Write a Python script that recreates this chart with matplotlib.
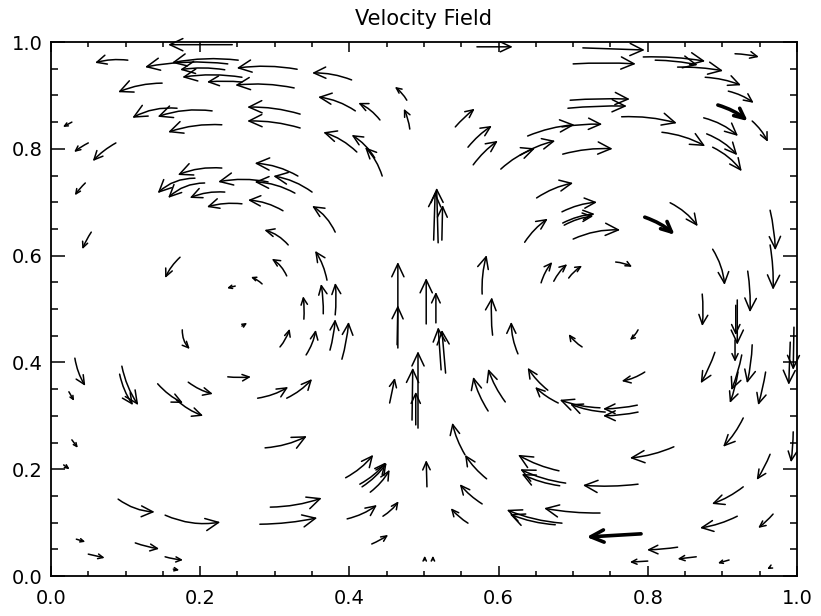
import matplotlib
matplotlib.use("Agg")
import numpy as np
import matplotlib.pyplot as plt
from matplotlib.patches import FancyArrowPatch
from matplotlib.ticker import MultipleLocator, FormatStrFormatter

# Streamline arrows of the two-cell flow: (x_tail, y_tail, x_head, y_head, bend)
# bend > 0 turns counter-clockwise (left cell), bend < 0 clockwise (right cell)
top_left = [
    (0.243, 0.995, 0.157, 0.995, 0.0),
    (0.237, 0.959, 0.126, 0.953, 0.08),
    (0.251, 0.966, 0.162, 0.961, 0.08),
    (0.330, 0.949, 0.249, 0.951, 0.08),
    (0.256, 0.934, 0.176, 0.934, 0.08),
    (0.233, 0.948, 0.173, 0.948, 0.08),
    (0.256, 0.925, 0.209, 0.925, 0.05),
    (0.326, 0.914, 0.247, 0.919, 0.08),
    (0.103, 0.966, 0.059, 0.961, 0.1),
    (0.403, 0.929, 0.350, 0.942, 0.1),
    (0.149, 0.923, 0.090, 0.906, 0.1),
    (0.169, 0.876, 0.109, 0.858, 0.15),
    (0.216, 0.871, 0.143, 0.860, 0.12),
    (0.229, 0.845, 0.157, 0.831, 0.1),
    (0.334, 0.865, 0.263, 0.878, 0.08),
    (0.334, 0.839, 0.263, 0.852, 0.08),
    (0.408, 0.871, 0.358, 0.897, 0.12),
    (0.441, 0.854, 0.412, 0.886, 0.12),
    (0.477, 0.891, 0.461, 0.916, 0.1),
    (0.481, 0.837, 0.473, 0.875, 0.08),
    (0.410, 0.794, 0.365, 0.831, 0.12),
    (0.434, 0.783, 0.403, 0.826, 0.12),
    (0.444, 0.749, 0.421, 0.803, 0.12),
    (0.331, 0.749, 0.273, 0.773, 0.12),
    (0.350, 0.719, 0.298, 0.749, 0.12),
    (0.327, 0.717, 0.273, 0.738, 0.12),
    (0.311, 0.684, 0.264, 0.704, 0.12),
    (0.381, 0.644, 0.350, 0.693, 0.15),
    (0.291, 0.738, 0.224, 0.738, 0.1),
    (0.229, 0.764, 0.170, 0.751, 0.12),
    (0.193, 0.745, 0.143, 0.717, 0.2),
    (0.233, 0.719, 0.186, 0.708, 0.12),
    (0.206, 0.736, 0.157, 0.708, 0.2),
    (0.256, 0.697, 0.209, 0.691, 0.1),
    (0.028, 0.850, 0.016, 0.841, 0.0),
    (0.050, 0.811, 0.031, 0.794, 0.05),
    (0.087, 0.811, 0.056, 0.777, 0.08),
    (0.046, 0.736, 0.032, 0.713, 0.05),
]

left_core = [
    (0.054, 0.644, 0.042, 0.612, 0.05),
    (0.173, 0.597, 0.153, 0.558, 0.1),
    (0.176, 0.461, 0.186, 0.425, 0.2),
    (0.032, 0.408, 0.046, 0.356, 0.1),
    (0.024, 0.345, 0.031, 0.328, 0.0),
    (0.095, 0.393, 0.117, 0.320, 0.1),
    (0.092, 0.378, 0.110, 0.320, 0.1),
    (0.143, 0.360, 0.177, 0.324, 0.1),
    (0.168, 0.330, 0.204, 0.300, 0.1),
    (0.184, 0.363, 0.217, 0.341, 0.1),
    (0.318, 0.620, 0.286, 0.648, 0.15),
    (0.316, 0.562, 0.296, 0.594, 0.15),
    (0.283, 0.547, 0.268, 0.560, 0.1),
    (0.247, 0.543, 0.236, 0.539, 0.0),
    (0.256, 0.468, 0.263, 0.474, 0.0),
    (0.370, 0.554, 0.354, 0.609, 0.1),
    (0.339, 0.481, 0.338, 0.524, 0.05),
    (0.365, 0.491, 0.362, 0.547, 0.05),
    (0.381, 0.489, 0.381, 0.549, 0.05),
    (0.374, 0.423, 0.381, 0.481, 0.05),
    (0.390, 0.406, 0.399, 0.476, 0.05),
    (0.307, 0.429, 0.320, 0.463, 0.1),
    (0.342, 0.414, 0.355, 0.461, 0.1),
    (0.237, 0.373, 0.268, 0.373, 0.05),
    (0.277, 0.333, 0.318, 0.354, 0.1),
    (0.316, 0.333, 0.350, 0.369, 0.1),
]

bottom_left = [
    (0.028, 0.255, 0.036, 0.240, 0.0),
    (0.017, 0.208, 0.025, 0.200, 0.0),
    (0.090, 0.144, 0.139, 0.120, 0.15),
    (0.153, 0.114, 0.227, 0.101, 0.15),
    (0.034, 0.069, 0.046, 0.064, 0.0),
    (0.050, 0.041, 0.072, 0.034, 0.0),
    (0.113, 0.062, 0.145, 0.051, 0.05),
    (0.153, 0.036, 0.177, 0.030, 0.05),
    (0.164, 0.013, 0.172, 0.011, 0.0),
    (0.287, 0.240, 0.343, 0.262, 0.1),
    (0.294, 0.129, 0.363, 0.146, 0.08),
    (0.280, 0.097, 0.357, 0.109, 0.05),
    (0.395, 0.184, 0.432, 0.227, 0.1),
    (0.417, 0.167, 0.450, 0.212, 0.1),
    (0.428, 0.157, 0.454, 0.199, 0.1),
    (0.414, 0.172, 0.449, 0.213, 0.1),
    (0.397, 0.107, 0.437, 0.133, 0.1),
    (0.445, 0.112, 0.466, 0.140, 0.1),
    (0.430, 0.060, 0.452, 0.077, 0.05),
]

centre = [
    (0.465, 0.427, 0.465, 0.588, 0.0),
    (0.464, 0.433, 0.465, 0.507, 0.0),
    (0.454, 0.324, 0.461, 0.371, 0.0),
    (0.484, 0.292, 0.485, 0.390, 0.0),
    (0.492, 0.277, 0.492, 0.421, 0.0),
    (0.489, 0.283, 0.489, 0.345, 0.0),
    (0.519, 0.624, 0.517, 0.727, 0.0),
    (0.524, 0.629, 0.525, 0.695, 0.0),
    (0.513, 0.629, 0.515, 0.719, 0.0),
    (0.503, 0.472, 0.503, 0.558, 0.0),
    (0.516, 0.474, 0.516, 0.532, 0.0),
    (0.523, 0.386, 0.519, 0.466, 0.0),
    (0.529, 0.380, 0.524, 0.461, 0.0),
    (0.504, 0.167, 0.503, 0.217, 0.0),
    (0.501, 0.030, 0.501, 0.038, 0.0),
    (0.512, 0.030, 0.512, 0.038, 0.0),
]

top_right = [
    (0.542, 0.841, 0.568, 0.875, -0.05),
    (0.559, 0.803, 0.591, 0.843, -0.08),
    (0.566, 0.770, 0.599, 0.815, -0.08),
    (0.603, 0.762, 0.649, 0.801, -0.1),
    (0.629, 0.788, 0.676, 0.815, -0.08),
    (0.639, 0.824, 0.702, 0.845, -0.08),
    (0.685, 0.841, 0.739, 0.846, -0.05),
    (0.686, 0.790, 0.753, 0.800, -0.08),
    (0.651, 0.708, 0.700, 0.736, -0.1),
    (0.685, 0.682, 0.732, 0.700, -0.1),
    (0.686, 0.661, 0.729, 0.678, -0.1),
    (0.571, 0.991, 0.619, 0.991, 0.0),
    (0.713, 0.989, 0.796, 0.985, 0.0),
    (0.700, 0.959, 0.784, 0.959, -0.03),
    (0.696, 0.891, 0.776, 0.893, -0.03),
    (0.693, 0.876, 0.772, 0.880, -0.03),
    (0.794, 0.972, 0.877, 0.964, -0.05),
    (0.810, 0.966, 0.867, 0.957, -0.05),
    (0.840, 0.953, 0.901, 0.946, -0.05),
    (0.917, 0.978, 0.949, 0.972, -0.05),
    (0.877, 0.934, 0.925, 0.919, -0.08),
    (0.908, 0.908, 0.942, 0.886, -0.1),
    (0.940, 0.852, 0.961, 0.813, -0.1),
    (0.875, 0.858, 0.921, 0.824, -0.12),
    (0.879, 0.828, 0.920, 0.788, -0.12),
    (0.887, 0.803, 0.926, 0.758, -0.12),
    (0.819, 0.831, 0.877, 0.805, -0.1),
    (0.765, 0.860, 0.839, 0.848, -0.08),
    (0.830, 0.699, 0.867, 0.655, -0.12),
    (0.964, 0.685, 0.971, 0.610, -0.05),
    (0.635, 0.625, 0.666, 0.669, -0.1),
    (0.688, 0.657, 0.727, 0.674, -0.1),
    (0.700, 0.631, 0.763, 0.648, -0.12),
    (0.657, 0.549, 0.672, 0.588, -0.1),
    (0.674, 0.552, 0.692, 0.584, -0.1),
    (0.694, 0.558, 0.712, 0.581, -0.1),
    (0.757, 0.588, 0.779, 0.579, -0.1),
    (0.578, 0.528, 0.584, 0.601, -0.08),
    (0.592, 0.451, 0.591, 0.522, -0.05),
    (0.626, 0.416, 0.617, 0.476, -0.1),
    (0.712, 0.429, 0.694, 0.453, -0.1),
    (0.787, 0.461, 0.776, 0.442, -0.1),
    (0.796, 0.382, 0.765, 0.365, -0.1),
]

right_side = [
    (0.887, 0.612, 0.903, 0.545, -0.12),
    (0.964, 0.620, 0.968, 0.536, -0.05),
    (0.934, 0.571, 0.937, 0.494, -0.05),
    (0.873, 0.528, 0.873, 0.468, -0.05),
    (0.920, 0.517, 0.920, 0.433, 0.0),
    (0.918, 0.507, 0.918, 0.451, 0.0),
    (0.917, 0.442, 0.917, 0.401, 0.0),
    (0.940, 0.433, 0.933, 0.361, -0.05),
    (0.926, 0.414, 0.912, 0.348, -0.05),
    (0.921, 0.382, 0.910, 0.324, -0.05),
    (0.890, 0.419, 0.871, 0.361, -0.05),
    (0.958, 0.382, 0.948, 0.320, -0.03),
    (0.996, 0.466, 0.995, 0.386, 0.0),
    (0.991, 0.438, 0.989, 0.358, 0.0),
    (0.995, 0.270, 0.992, 0.213, -0.03),
]

bottom_right = [
    (0.786, 0.320, 0.740, 0.313, -0.05),
    (0.787, 0.307, 0.740, 0.300, -0.05),
    (0.736, 0.315, 0.682, 0.330, -0.08),
    (0.743, 0.307, 0.696, 0.322, -0.08),
    (0.835, 0.242, 0.776, 0.221, -0.08),
    (0.787, 0.172, 0.713, 0.170, -0.05),
    (0.840, 0.054, 0.799, 0.049, -0.03),
    (0.800, 0.028, 0.776, 0.026, 0.0),
    (0.865, 0.036, 0.840, 0.032, 0.0),
    (0.909, 0.030, 0.894, 0.024, 0.0),
    (0.964, 0.016, 0.960, 0.013, 0.0),
    (0.928, 0.296, 0.901, 0.242, -0.08),
    (0.964, 0.228, 0.946, 0.180, -0.05),
    (0.928, 0.167, 0.886, 0.135, -0.08),
    (0.920, 0.112, 0.870, 0.090, -0.08),
    (0.968, 0.116, 0.948, 0.090, -0.05),
    (0.681, 0.197, 0.626, 0.227, -0.08),
    (0.690, 0.174, 0.629, 0.200, -0.08),
    (0.682, 0.169, 0.631, 0.191, -0.08),
    (0.736, 0.118, 0.661, 0.127, -0.05),
    (0.685, 0.099, 0.611, 0.124, -0.08),
    (0.676, 0.096, 0.615, 0.116, -0.08),
    (0.555, 0.227, 0.538, 0.287, -0.08),
    (0.584, 0.182, 0.555, 0.227, -0.08),
    (0.578, 0.135, 0.548, 0.172, -0.08),
    (0.559, 0.099, 0.536, 0.127, -0.08),
    (0.586, 0.309, 0.566, 0.373, -0.08),
    (0.609, 0.326, 0.586, 0.388, -0.08),
    (0.666, 0.348, 0.639, 0.390, -0.08),
    (0.680, 0.324, 0.649, 0.354, -0.08),
]

# faster parcels, drawn with a heavier line
bold_arrows = [
    (0.894, 0.882, 0.934, 0.852, -0.1),
    (0.796, 0.672, 0.836, 0.639, -0.1),
    (0.791, 0.079, 0.718, 0.073, 0.0),
]

tick_values = [0.0, 0.2, 0.4, 0.6, 0.8, 1.0]


def draw_arrows(ax, arrows, lw):
    for x0, y0, x1, y1, bend in arrows:
        p0 = ax.transData.transform((x0, y0))
        p1 = ax.transData.transform((x1, y1))
        length_pt = np.hypot(*(p1 - p0)) * 72.0 / ax.figure.dpi
        # head grows with the arrow, up to a fixed size
        scale = min(max(length_pt * 0.35, 3.0), 11.0)
        arrow = FancyArrowPatch(
            (x0, y0), (x1, y1),
            connectionstyle=f"arc3,rad={bend}",
            arrowstyle="->,head_length=0.85,head_width=0.4",
            mutation_scale=scale, lw=lw, color="black",
            shrinkA=0, shrinkB=0, clip_on=False,
        )
        ax.add_patch(arrow)


fig = plt.figure(figsize=(8.21, 6.16), dpi=100)
ax = fig.add_axes([0.0621, 0.0649, 0.9086, 0.8669])
ax.set_xlim(0, 1)
ax.set_ylim(0, 1)

for group in [top_left, left_core, bottom_left, centre, top_right, right_side, bottom_right]:
    draw_arrows(ax, group, 1.1)
draw_arrows(ax, bold_arrows, 2.6)

ax.set_xticks(tick_values)
ax.set_yticks(tick_values)
ax.xaxis.set_minor_locator(MultipleLocator(0.05))
ax.yaxis.set_minor_locator(MultipleLocator(0.05))
ax.xaxis.set_major_formatter(FormatStrFormatter("%.1f"))
ax.yaxis.set_major_formatter(FormatStrFormatter("%.1f"))
ax.tick_params(which="both", direction="in", top=True, right=True, width=1.1,
               labelsize=14, colors="black")
ax.tick_params(axis="x", which="major", length=7, pad=9)
ax.tick_params(axis="x", which="minor", length=3.5)
ax.tick_params(axis="y", which="major", length=10, pad=6)
ax.tick_params(axis="y", which="minor", length=5)
for spine in ax.spines.values():
    spine.set_linewidth(1.3)

ax.set_title("Velocity Field", fontsize=15, pad=12)

fig.savefig("out.png", dpi=100)
